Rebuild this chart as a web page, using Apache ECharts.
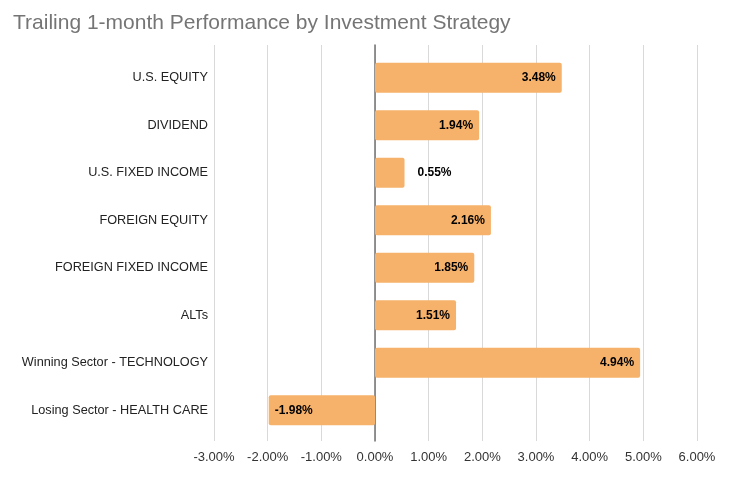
<!DOCTYPE html>
<html>
<head>
<meta charset="utf-8">
<script src="https://cdn.jsdelivr.net/npm/echarts@6/dist/echarts.min.js"></script>
<style>html,body{margin:0;padding:0;background:#fff;}#c{width:732px;height:480px;}</style>
</head>
<body>
<div id="c"></div>
<script>
const categories = ["U.S. EQUITY","DIVIDEND","U.S. FIXED INCOME","FOREIGN EQUITY","FOREIGN FIXED INCOME","ALTs","Winning Sector - TECHNOLOGY","Losing Sector - HEALTH CARE"];
const values = [3.48, 1.94, 0.55, 2.16, 1.85, 1.51, 4.94, -1.98];
const xMin = -3, xMax = 6, xStep = 1;

const chart = echarts.init(document.getElementById('c'));
const fontFam = 'Liberation Sans, Arial, sans-serif';
chart.setOption({
  animation: false,
  title: {
    text: 'Trailing 1-month Performance by Investment Strategy',
    left: 8, top: 8,
    textStyle: {fontFamily: fontFam, fontSize: 21, fontWeight: 'normal', color: '#757575'}
  },
  grid: [
    {left: 214, right: 35, top: 45, bottom: 39},
    {left: 214, right: 35, top: 54, bottom: 46}
  ],
  xAxis: [
    {gridIndex: 0, type: 'value', min: xMin, max: xMax, interval: xStep,
     axisLine: {show: false}, axisTick: {show: false},
     splitLine: {show: true, lineStyle: {color: '#d9d9d9', width: 1}},
     axisLabel: {fontFamily: fontFam, fontSize: 13, color: '#333', margin: 10,
       formatter: v => v.toFixed(2) + '%'}},
    {gridIndex: 1, type: 'value', min: xMin, max: xMax, interval: xStep, show: false}
  ],
  yAxis: [
    {gridIndex: 0, type: 'value', min: 0, max: 1, show: true,
     axisLine: {show: true, onZero: true, lineStyle: {color: '#707070', width: 1.5}},
     axisTick: {show: false}, axisLabel: {show: false}, splitLine: {show: false}},
    {gridIndex: 1, type: 'category', data: categories, inverse: true,
     axisLine: {show: false, onZero: false}, axisTick: {show: false},
     axisLabel: {fontFamily: fontFam, fontSize: 12.7, color: '#222', margin: 6}}
  ],
  series: [{
    type: 'bar', xAxisIndex: 1, yAxisIndex: 1,
    data: values.map(v => ({
      value: v,
      label: {position: v < 0 ? 'insideLeft' : (v < 1 ? 'right' : 'insideRight'),
              distance: v < 1 && v >= 0 ? 13 : 6}
    })),
    barWidth: '63%',
    itemStyle: {color: '#F6B26B', borderRadius: 2},
    label: {show: true, fontFamily: fontFam, fontSize: 12, fontWeight: 'bold', color: '#000',
      formatter: p => p.value.toFixed(2) + '%'},
    z: 1
  }]
});
</script>
</body>
</html>
